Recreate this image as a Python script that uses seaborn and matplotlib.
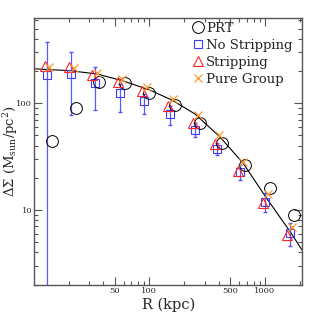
import numpy as np
import pandas as pd
import matplotlib
matplotlib.use("Agg")
import matplotlib.pyplot as plt
import seaborn as sns
from matplotlib.lines import Line2D
from matplotlib.ticker import FixedLocator, NullFormatter

# bin centres (kpc)
R = [14.3, 23.2, 36.8, 61.0, 99.4, 167, 274, 422, 671, 1104, 1790]

prt = [44.6, 90.4, 158, 154, 125, 96, 65.8, 42.8, 26.4, 16.2, 8.98]
no_strip = [184, 187, 154, 124, 104, 79.3, 56.2, 37.1, 22.8, 12.0, 6.05]
no_strip_hi = [373, 301, 220, 150, 122, 95, 65, 42.8, 26.4, 14.3, 7.5]
no_strip_lo = [1.0, 77.6, 86.5, 83.4, 79, 62.6, 48, 32.8, 19.2, 9.6, 4.6]
strip = [224, 220, 185, 157, 130, 95, 65, 41.6, 23.3, 11.7, 5.83]
pure_group = [217, 215, 193, 168, 141, 109, 77.7, 50.5, 28.4, 14.0, 6.97]

# model curve
model_R = [10.3, 20.6, 35.3, 59.3, 101, 157, 248, 408, 646, 1021, 1645, 2089]
model_ds = [210, 202, 188, 162, 133, 107, 79.4, 48.3, 27.5, 13.1, 6.3, 4.22]

sns.set_style("ticks")
plt.rcParams["font.family"] = ["DejaVu Serif"]
plt.rcParams["mathtext.fontset"] = "dejavuserif"

fig = plt.figure(figsize=(3.19, 3.19), dpi=100)
ax = fig.add_axes([0.1075, 0.1066, 0.8392, 0.837])

r = np.array(R)
df_model = pd.DataFrame({"R": model_R, "DS": model_ds})
sns.lineplot(data=df_model, x="R", y="DS", ax=ax, color="black", lw=0.8,
             sort=False, estimator=None)

blue = "#3b3bff"
ns = np.array(no_strip)
ax.errorbar(r * 0.911, ns, yerr=[ns - np.array(no_strip_lo), np.array(no_strip_hi) - ns],
            fmt="none", ecolor=blue, elinewidth=0.9, capsize=1.2, alpha=0.85, zorder=3)
ax.plot(r * 0.911, ns, ls="none", marker="s", ms=5.5, mfc="none", mec=blue, mew=0.8, zorder=4)
ax.plot(r * 0.870, strip, ls="none", marker="^", ms=7.0, mfc="none", mec="#ff2424", mew=0.8, zorder=5)
ax.plot(r * 0.953, pure_group, ls="none", marker="x", ms=6.0, mec="#ff9a30", mew=0.9, zorder=5)
ax.plot(r, prt, ls="none", marker="o", ms=8.5, mfc="none", mec="black", mew=0.7, zorder=4)

ax.set_xscale("log")
ax.set_yscale("log")
ax.set_xlim(10.1, 2090)
ax.set_ylim(1.98, 630)

ax.xaxis.set_major_locator(FixedLocator([50, 100, 500, 1000]))
ax.xaxis.set_minor_locator(FixedLocator([20, 30, 40, 60, 70, 80, 90, 200, 300, 400,
                                         600, 700, 800, 900, 2000]))
ax.set_xticklabels(["50", "100", "500", "1000"])
ax.xaxis.set_minor_formatter(NullFormatter())
ax.yaxis.set_major_locator(FixedLocator([10, 100]))
ax.yaxis.set_minor_locator(FixedLocator([2, 3, 4, 5, 6, 7, 8, 9, 20, 30, 40, 50, 60,
                                         70, 80, 90, 200, 300, 400, 500, 600]))
ax.set_yticklabels(["10", "100"])
ax.yaxis.set_minor_formatter(NullFormatter())

ax.tick_params(which="both", direction="in", top=True, right=True,
               color="#555555", width=0.8, labelsize=6, pad=1.5)
ax.tick_params(which="major", length=6)
ax.tick_params(which="minor", length=3)
for s in ax.spines.values():
    s.set_color("#555555")
    s.set_linewidth(1.0)

ax.set_xlabel("R (kpc)", fontsize=10.5, labelpad=2)
ax.set_ylabel(r"$\Delta\Sigma\ (\mathrm{M_{sun}/pc^2})$", fontsize=9.5)
ax.yaxis.set_label_coords(-0.055, 0.5)

handles = [
    Line2D([], [], ls="none", marker="o", ms=8.5, mfc="none", mec="black", mew=0.7),
    Line2D([], [], ls="none", marker="s", ms=5.5, mfc="none", mec=blue, mew=0.8),
    Line2D([], [], ls="none", marker="^", ms=7.0, mfc="none", mec="#ff2424", mew=0.8),
    Line2D([], [], ls="none", marker="x", ms=6.0, mec="#ff9a30", mew=0.9),
]
ax.legend(handles, ["PRT", "No Stripping", "Stripping", "Pure Group"],
          loc="upper right", frameon=False, fontsize=9.5, handlelength=0.6,
          handletextpad=0.3, labelspacing=0.3, borderaxespad=0.0,
          bbox_to_anchor=(0.985, 1.005))

fig.savefig("out.png", dpi=100)
